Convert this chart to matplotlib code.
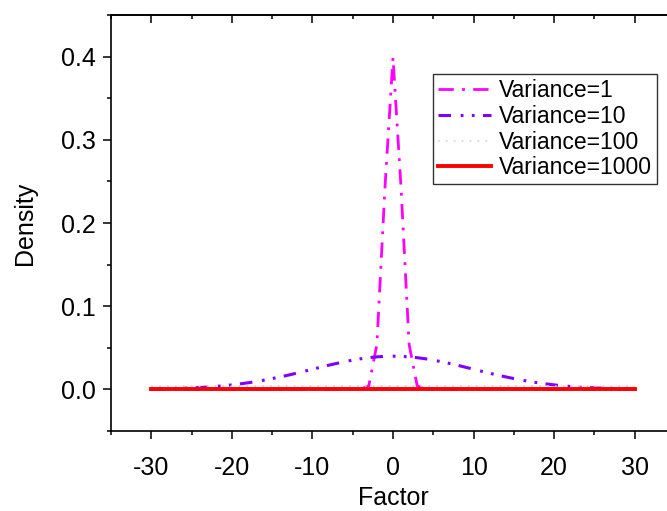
import matplotlib
matplotlib.use('Agg')
import matplotlib.pyplot as plt
from matplotlib.ticker import MultipleLocator, NullFormatter

plt.rcParams['font.family'] = ['Liberation Sans', 'DejaVu Sans']
plt.rcParams['lines.scale_dashes'] = False
plt.rcParams['axes.unicode_minus'] = False

# sampled factor values (integers -30 .. 30)
factor = [-30, -29, -28, -27, -26, -25, -24, -23, -22, -21,
          -20, -19, -18, -17, -16, -15, -14, -13, -12, -11,
          -10, -9, -8, -7, -6, -5, -4, -3, -2, -1,
          0, 1, 2, 3, 4, 5, 6, 7, 8, 9,
          10, 11, 12, 13, 14, 15, 16, 17, 18, 19,
          20, 21, 22, 23, 24, 25, 26, 27, 28, 29, 30]

dens_var1 = [0, 0, 0, 0, 0, 0, 0, 0, 0, 0,
             0, 0, 0, 0, 0, 0, 0, 0, 0, 0,
             0, 0, 0, 0, 0, 0, 0.0001, 0.0044, 0.0540, 0.2420,
             0.3989, 0.2420, 0.0540, 0.0044, 0.0001, 0, 0, 0, 0, 0,
             0, 0, 0, 0, 0, 0, 0, 0, 0, 0,
             0, 0, 0, 0, 0, 0, 0, 0, 0, 0, 0]

dens_var10 = [0.0004, 0.0006, 0.0008, 0.0010, 0.0014, 0.0018, 0.0022, 0.0028, 0.0035, 0.0044,
              0.0054, 0.0066, 0.0079, 0.0094, 0.0111, 0.0130, 0.0150, 0.0171, 0.0194, 0.0218,
              0.0242, 0.0266, 0.0290, 0.0312, 0.0333, 0.0352, 0.0368, 0.0381, 0.0391, 0.0397,
              0.0399, 0.0397, 0.0391, 0.0381, 0.0368, 0.0352, 0.0333, 0.0312, 0.0290, 0.0266,
              0.0242, 0.0218, 0.0194, 0.0171, 0.0150, 0.0130, 0.0111, 0.0094, 0.0079, 0.0066,
              0.0054, 0.0044, 0.0035, 0.0028, 0.0022, 0.0018, 0.0014, 0.0010, 0.0008, 0.0006, 0.0004]

dens_var100 = [0.0038, 0.0038, 0.0038, 0.0038, 0.0039, 0.0039, 0.0039, 0.0039, 0.0039, 0.0039,
               0.0039, 0.0039, 0.0039, 0.0039, 0.0039, 0.0039, 0.0040, 0.0040, 0.0040, 0.0040,
               0.0040, 0.0040, 0.0040, 0.0040, 0.0040, 0.0040, 0.0040, 0.0040, 0.0040, 0.0040,
               0.0040, 0.0040, 0.0040, 0.0040, 0.0040, 0.0040, 0.0040, 0.0040, 0.0040, 0.0040,
               0.0040, 0.0040, 0.0040, 0.0040, 0.0040, 0.0039, 0.0039, 0.0039, 0.0039, 0.0039,
               0.0039, 0.0039, 0.0039, 0.0039, 0.0039, 0.0039, 0.0039, 0.0038, 0.0038, 0.0038, 0.0038]

dens_var1000 = [0.0004, 0.0004, 0.0004, 0.0004, 0.0004, 0.0004, 0.0004, 0.0004, 0.0004, 0.0004,
                0.0004, 0.0004, 0.0004, 0.0004, 0.0004, 0.0004, 0.0004, 0.0004, 0.0004, 0.0004,
                0.0004, 0.0004, 0.0004, 0.0004, 0.0004, 0.0004, 0.0004, 0.0004, 0.0004, 0.0004,
                0.0004, 0.0004, 0.0004, 0.0004, 0.0004, 0.0004, 0.0004, 0.0004, 0.0004, 0.0004,
                0.0004, 0.0004, 0.0004, 0.0004, 0.0004, 0.0004, 0.0004, 0.0004, 0.0004, 0.0004,
                0.0004, 0.0004, 0.0004, 0.0004, 0.0004, 0.0004, 0.0004, 0.0004, 0.0004, 0.0004, 0.0004]

fig = plt.figure(figsize=(6.67, 5.11), dpi=100)
ax = fig.add_axes([0.1664, 0.1566, 0.8456, 0.8140])

ax.plot(factor, dens_var1, color='#ff00ff', lw=2.0, dashes=(11, 6, 2, 6), label='Variance=1')
ax.plot(factor, dens_var10, color='#8000ff', lw=2.2, dashes=(9, 7, 2, 6, 2, 6), label='Variance=10')
ax.plot(factor, dens_var100, color='#ccccff', lw=1.2, dashes=(1.2, 4.5), label='Variance=100')
ax.plot(factor, dens_var1000, color='#ff0000', lw=2.8, label='Variance=1000')

ax.set_xlim(-35, 35)
ax.set_ylim(-0.05, 0.45)

ax.xaxis.set_major_locator(MultipleLocator(10))
ax.xaxis.set_minor_locator(MultipleLocator(5))
ax.yaxis.set_major_locator(MultipleLocator(0.1))
ax.yaxis.set_minor_locator(MultipleLocator(0.05))
ax.set_yticks([0.0, 0.1, 0.2, 0.3, 0.4])
ax.set_yticklabels(['0.0', '0.1', '0.2', '0.3', '0.4'])

ax.tick_params(which='major', direction='out', length=6, width=1.1, labelsize=18)
ax.tick_params(which='minor', direction='out', length=3, width=1.1)
ax.tick_params(axis='x', which='major', pad=12)
ax.tick_params(axis='y', which='major', pad=5)

for s in ax.spines.values():
    s.set_linewidth(1.2)

# top and right ticks point inward, no labels
top = ax.secondary_xaxis('top')
top.xaxis.set_major_locator(MultipleLocator(10))
top.xaxis.set_minor_locator(MultipleLocator(5))
top.tick_params(which='major', direction='in', length=6, width=1.1)
top.tick_params(which='minor', direction='in', length=3, width=1.1)
top.xaxis.set_major_formatter(NullFormatter())
top.spines['top'].set_linewidth(1.2)

right = ax.secondary_yaxis('right')
right.yaxis.set_major_locator(MultipleLocator(0.1))
right.yaxis.set_minor_locator(MultipleLocator(0.05))
right.tick_params(which='major', direction='in', length=6, width=1.1, color='#999999')
right.tick_params(which='minor', direction='in', length=3, width=1.1, color='#999999')
right.yaxis.set_major_formatter(NullFormatter())

ax.set_xlabel('Factor', fontsize=18, labelpad=4)
ax.set_ylabel('Density', fontsize=18, labelpad=17)

leg = ax.legend(loc='upper left', bbox_to_anchor=(433 / 667, 1 - 74 / 511),
                bbox_transform=fig.transFigure, borderaxespad=0, fontsize=16.5,
                frameon=True, fancybox=False, edgecolor='#333333', framealpha=1,
                handlelength=2.3, handletextpad=0.35, labelspacing=0.12,
                borderpad=0.22)
leg.get_frame().set_linewidth(1.0)

fig.savefig('out.png', dpi=100)
